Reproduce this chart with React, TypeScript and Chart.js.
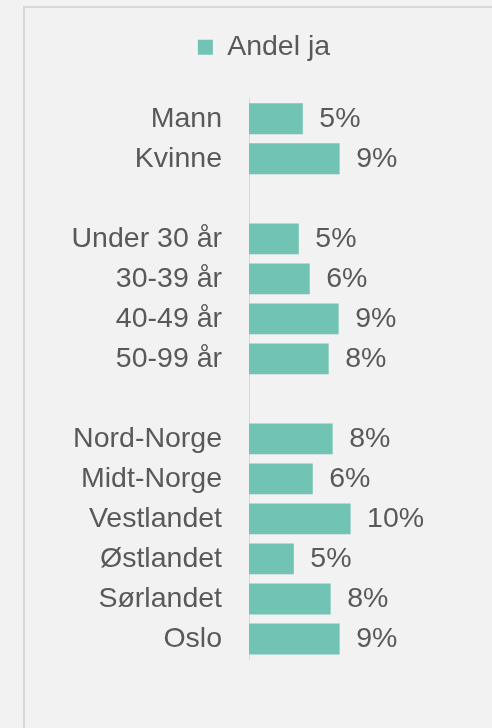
import React, { useEffect, useRef } from 'react';
import { Chart, registerables } from 'chart.js';

Chart.register(...registerables);

const categories = [
  'Mann', 'Kvinne', '',
  'Under 30 år', '30-39 år', '40-49 år', '50-99 år', '',
  'Nord-Norge', 'Midt-Norge', 'Vestlandet', 'Østlandet', 'Sørlandet', 'Oslo',
];
const andelJa = [5.4, 9.1, null, 5.0, 6.1, 9.0, 8.0, null, 8.4, 6.4, 10.2, 4.5, 8.2, 9.1];
const seriesName = 'Andel ja';

const FONT_FAMILY = '"Liberation Sans", Arial, sans-serif';
const TEXT_COLOR = '#595959';
const BAR_COLOR = '#71c4b3';

const legendSpacer = {
  id: 'legendSpacer',
  afterInit(chart: any) {
    const legend = chart.legend;
    if (!legend) return;
    const orig = legend.fit;
    legend.fit = function () {
      orig.call(this);
      this.height += 27.25;
    };
  },
};

const valueLabels = {
  id: 'valueLabels',
  afterDatasetsDraw(chart: any) {
    const ctx = chart.ctx;
    const meta = chart.getDatasetMeta(0);
    ctx.save();
    ctx.font = `28.5px ${FONT_FAMILY}`;
    ctx.fillStyle = TEXT_COLOR;
    ctx.textAlign = 'left';
    ctx.textBaseline = 'middle';
    meta.data.forEach((bar: any, i: number) => {
      const v = andelJa[i];
      if (v === null || v === undefined) return;
      ctx.fillText(`${Math.round(v)}%`, bar.x + 16.5, bar.y);
    });
    ctx.restore();
  },
};

export default function App() {
  const canvasRef = useRef<HTMLCanvasElement | null>(null);

  useEffect(() => {
    if (!canvasRef.current) return;
    const chart = new Chart(canvasRef.current, {
      type: 'bar',
      data: {
        labels: categories,
        datasets: [
          {
            label: seriesName,
            data: andelJa as any,
            backgroundColor: BAR_COLOR,
            borderColor: '#8ccfc1',
            borderWidth: 0,
            categoryPercentage: 1,
            barPercentage: 0.77,
          },
        ],
      },
      options: {
        indexAxis: 'y',
        responsive: false,
        animation: false,
        layout: { padding: { top: 23, left: 36, right: 0, bottom: 69 } },
        plugins: {
          legend: {
            display: true,
            position: 'top',
            labels: {
              boxWidth: 15,
              boxHeight: 15,
              color: TEXT_COLOR,
              font: { family: FONT_FAMILY, size: 28.5 },
            },
          },
          tooltip: { enabled: false },
        },
        scales: {
          x: {
            display: false,
            min: 0,
            max: 24.4,
          },
          y: {
            type: 'category',
            offset: true,
            grid: { display: false, drawTicks: false },
            border: { display: true, color: '#d9d9d9', width: 1 },
            ticks: {
              autoSkip: false,
              padding: 27,
              color: TEXT_COLOR,
              font: { family: FONT_FAMILY, size: 28.5 },
            },
            afterFit(scale: any) {
              scale.width = 213;
            },
          },
        },
      },
      plugins: [legendSpacer, valueLabels],
    });
    return () => chart.destroy();
  }, []);

  return (
    <div
      style={{
        position: 'fixed',
        left: 0,
        top: 0,
        width: 492,
        height: 728,
        background: '#f2f2f2',
        overflow: 'hidden',
      }}
    >
      <div
        style={{
          position: 'absolute',
          left: 23,
          top: 6,
          right: -20,
          bottom: -20,
          borderLeft: '2px solid #d9d9d9',
          borderTop: '2px solid #d9d9d9',
        }}
      />
      <canvas
        ref={canvasRef}
        width={492}
        height={728}
        style={{ position: 'absolute', left: 0, top: 0, width: 492, height: 728 }}
      />
    </div>
  );
}
